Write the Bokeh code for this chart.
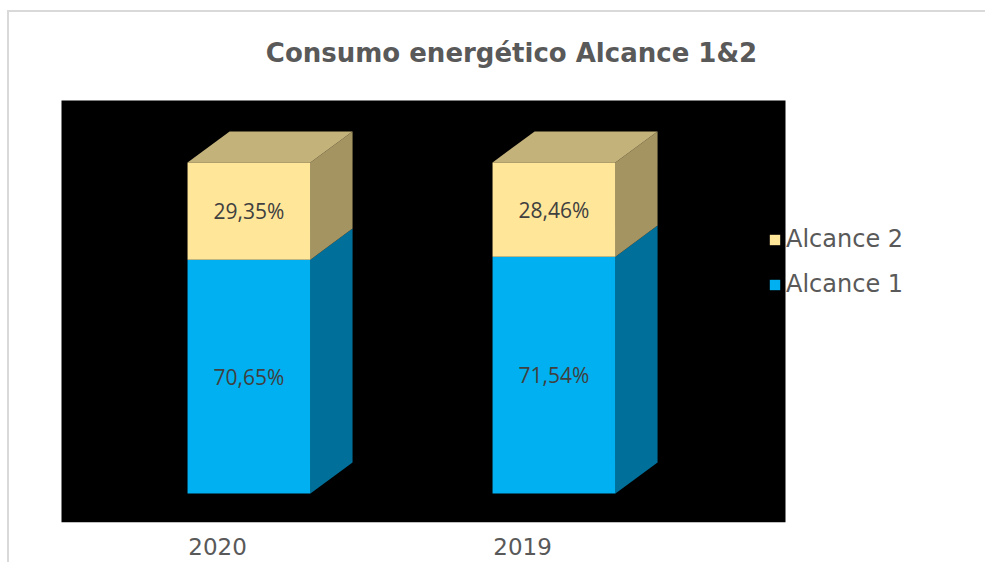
from bokeh.plotting import figure
from bokeh.models import (ColumnDataSource, Range1d, LinearAxis, FixedTicker,
                          Legend, LegendItem, BoxAnnotation, Label)
from bokeh.core.properties import value
from bokeh.embed import file_html
from bokeh.resources import INLINE

# ---- data ----
categories = ["2020", "2019"]
alcance1 = [70.65, 71.54]
alcance2 = [29.35, 28.46]
title_text = "Consumo energético Alcance 1&2"

# ---- styling constants ----
BLUE, BLUE_SIDE = "#00B0F0", "#00709A"
YEL, YEL_SIDE, YEL_TOP = "#FFE699", "#A49461", "#C4B27B"
GREY = "#595959"

xs = list(range(len(categories)))
W = 0.403            # front face width (x units)
DX, DY = 0.138, 9.4  # 3-D depth offset (x units, y units)

def pct(v):
    return f"{v:.2f}".replace(".", ",") + "%"

tot = [a + b for a, b in zip(alcance1, alcance2)]

front1 = ColumnDataSource(dict(x=xs, bottom=[0] * len(xs), top=alcance1,
                               ym=[a / 2 for a in alcance1],
                               lab=[pct(v) for v in alcance1]))
front2 = ColumnDataSource(dict(x=xs, bottom=alcance1, top=tot,
                               ym=[a + b / 2 for a, b in zip(alcance1, alcance2)],
                               lab=[pct(v) for v in alcance2]))

def side(src_b, src_t):
    xx, yy = [], []
    for x, b, t in zip(xs, src_b, src_t):
        r = x + W / 2
        xx.append([r, r + DX, r + DX, r])
        yy.append([b, b + DY, t + DY, t])
    return ColumnDataSource(dict(xs=xx, ys=yy))

side1 = side([0] * len(xs), alcance1)
side2 = side(alcance1, tot)
tx, ty = [], []
for x, t in zip(xs, tot):
    l, r = x - W / 2, x + W / 2
    tx.append([l, l + DX, r + DX, r])
    ty.append([t, t + DY, t + DY, t])
topsrc = ColumnDataSource(dict(xs=tx, ys=ty))

# ---- layout (pixels of the picture) ----
ML, MT, BW = 7, 10, 2          # css margin + border
OX, OY = ML + BW, MT + BW      # content origin
FW, FH = 987 - OX, 564 - OY    # figure content size
FB = 522                       # frame bottom (picture y)
PXX, PXY = 305.0, 3.31         # px per unit
CX0, BASE = 248.5, 493         # x=0 centre, y=0 baseline
x0 = (OX - CX0) / PXX
x1 = (987 - CX0) / PXX
y0 = -(FB - BASE) / PXY
y1 = (BASE - OY) / PXY

p = figure(width=FW, height=FH, output_backend="svg", toolbar_location=None,
           x_range=Range1d(x0, x1), y_range=Range1d(y0, y1),
           x_axis_location=None, y_axis_location=None,
           min_border_left=0, min_border_right=0,
           min_border_top=0, min_border_bottom=FH - (FB - OY))
p.styles = {"border-top": f"{BW}px solid #d9d9d9",
            "border-left": f"{BW}px solid #d9d9d9",
            "margin-top": f"{MT}px", "margin-left": f"{ML}px"}
p.title.visible = False
p.background_fill_color = "white"
p.border_fill_color = "white"
p.outline_line_color = None
p.grid.visible = False

# black plot area (wall)
p.add_layout(BoxAnnotation(left=(61 - CX0) / PXX, right=(785 - CX0) / PXX,
                           bottom=y0, top=(BASE - 100) / PXY,
                           fill_color="black", fill_alpha=1.0,
                           line_color=None, level="underlay"))

# title
p.add_layout(Label(x=511 - OX, y=FB - 52, x_units="screen", y_units="screen",
                   text=title_text, text_align="center", text_baseline="middle",
                   text_font="DejaVu Sans", text_font_style="bold",
                   text_font_size="26px", text_color=GREY))

# 3-D bars
p.patches("xs", "ys", source=side1, fill_color=BLUE_SIDE, line_color=None)
p.patches("xs", "ys", source=side2, fill_color=YEL_SIDE, line_color=None)
p.patches("xs", "ys", source=topsrc, fill_color=YEL_TOP, line_color=None)
r1 = p.vbar(x="x", bottom="bottom", top="top", width=W, source=front1,
            fill_color=BLUE, line_color=None)
r2 = p.vbar(x="x", bottom="bottom", top="top", width=W, source=front2,
            fill_color=YEL, line_color=None)

for src in (front1, front2):
    p.text(x="x", y="ym", text="lab", source=src, text_align="center",
           text_baseline="middle", text_font=value("Open Sans"),
           text_font_size="21px", text_color="#404040")

# category axis (shifted like Excel's 3-D floor projection)
SH = 0.103
p.extra_x_ranges = {"lab": Range1d(x0 + SH, x1 + SH)}
ax = LinearAxis(x_range_name="lab", ticker=FixedTicker(ticks=xs),
                major_label_overrides={i: c for i, c in zip(xs, categories)})
ax.axis_line_color = None
ax.major_tick_line_color = None
ax.minor_tick_line_color = None
ax.major_tick_out = 0
ax.major_tick_in = 0
ax.major_label_standoff = 15
ax.major_label_text_font = "DejaVu Sans"
ax.major_label_text_font_size = "23px"
ax.major_label_text_color = GREY
p.add_layout(ax, "below")

legend = Legend(items=[LegendItem(label="Alcance 2", renderers=[r2]),
                       LegendItem(label="Alcance 1", renderers=[r1])],
                location=(768 - OX, 224), orientation="vertical",
                glyph_width=13, glyph_height=13, label_standoff=5,
                spacing=17, padding=0, margin=0,
                label_text_font="DejaVu Sans", label_text_font_size="24px",
                label_text_color=GREY, border_line_color=None,
                background_fill_alpha=0)
p.add_layout(legend, "center")

open("out.html", "w").write(file_html(p, INLINE))
